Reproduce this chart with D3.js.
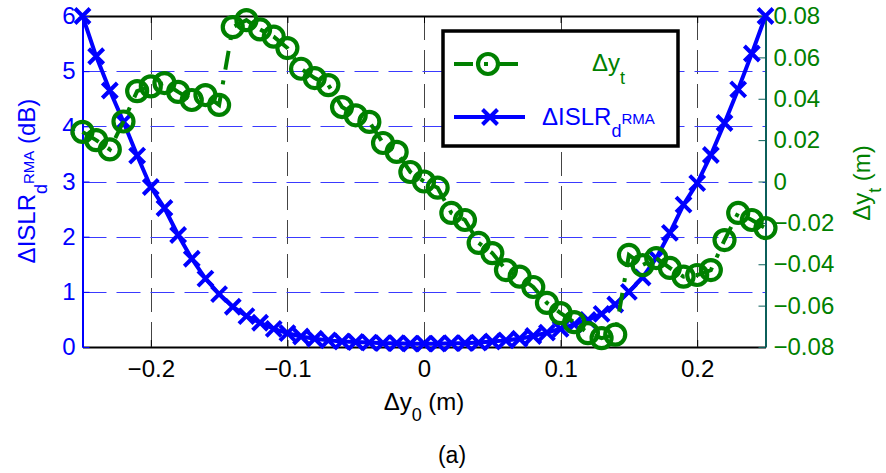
<!DOCTYPE html>
<html>
<head>
<meta charset="utf-8">
<script src="https://cdn.jsdelivr.net/npm/d3@7"></script>
<style>
  html, body { margin: 0; padding: 0; background: #fff; }
  svg { display: block; }
  text { font-family: "Liberation Sans", Arial, sans-serif; }
</style>
</head>
<body>
<svg id="chart" width="886" height="473"></svg>
<script>
// Offset of the reference position (m)
const dy0 = [
  -0.25, -0.24, -0.23, -0.22, -0.21, -0.20, -0.19, -0.18, -0.17, -0.16,
  -0.15, -0.14, -0.13, -0.12, -0.11, -0.10, -0.09, -0.08, -0.07, -0.06,
  -0.05, -0.04, -0.03, -0.02, -0.01, 0.00, 0.01, 0.02, 0.03, 0.04,
  0.05, 0.06, 0.07, 0.08, 0.09, 0.10, 0.11, 0.12, 0.13, 0.14,
  0.15, 0.16, 0.17, 0.18, 0.19, 0.20, 0.21, 0.22, 0.23, 0.24, 0.25
];
// ISLR degradation (dB), left axis
const islr = [
  6.00, 5.27, 4.65, 4.08, 3.47, 2.90, 2.52, 2.03, 1.60, 1.24,
  0.96, 0.73, 0.56, 0.44, 0.33, 0.25, 0.19, 0.15, 0.12, 0.10,
  0.09, 0.08, 0.07, 0.07, 0.06, 0.06, 0.06, 0.07, 0.07, 0.08,
  0.10, 0.12, 0.15, 0.20, 0.26, 0.33, 0.41, 0.49, 0.60, 0.77,
  1.00, 1.26, 1.61, 2.07, 2.58, 2.97, 3.48, 4.06, 4.67, 5.32, 6.00
];
// Estimated target offset (m), right axis
const dyt = [
  0.0240, 0.0200, 0.0155, 0.0290, 0.0437, 0.0460, 0.0476, 0.0433, 0.0394, 0.0418,
  0.0370, 0.0746, 0.0780, 0.0735, 0.0700, 0.0645, 0.0545, 0.0500, 0.0466, 0.0360,
  0.0320, 0.0288, 0.0186, 0.0143, 0.0046, 0.0000, -0.0030, -0.0152, -0.0186, -0.0297,
  -0.0346, -0.0428, -0.0460, -0.0510, -0.0587, -0.0636, -0.0680, -0.0733, -0.0757, -0.0740,
  -0.0355, -0.0404, -0.0370, -0.0418, -0.0460, -0.0452, -0.0428, -0.0283, -0.0152, -0.0186, -0.0225
];
const xTicks = [-0.2, -0.1, 0, 0.1, 0.2];
const yLeftTicks = [0, 1, 2, 3, 4, 5, 6];
const yRightTicks = [-0.08, -0.06, -0.04, -0.02, 0, 0.02, 0.04, 0.06, 0.08];

const BLUE = "#0000ff", GREEN = "#008000", TEAL = "#0b5f5a";
const FS = 24;
const svg = d3.select("#chart");
const L = 82.5, R = 765.5, T = 16, B = 347;

const x = d3.scaleLinear().domain([-0.25, 0.25]).range([L, R]);
const yL = d3.scaleLinear().domain([0, 6]).range([B, T]);
const yR = d3.scaleLinear().domain([-0.08, 0.08]).range([B, T]);

const fmtX = d => d === 0 ? "0" : d3.format(".1f")(d);
const fmtR = d => d === 0 ? "0" : d3.format(".2f")(d);

// grid
const grid = svg.append("g");
grid.selectAll("line.gx").data(xTicks).join("line")
  .attr("x1", d => Math.round(x(d)) + 0.5).attr("x2", d => Math.round(x(d)) + 0.5)
  .attr("y1", T).attr("y2", B)
  .attr("stroke", "#444").attr("stroke-width", 1).attr("stroke-dasharray", "24,10");
grid.selectAll("line.gy").data(yLeftTicks.filter(d => d > 0 && d < 6)).join("line")
  .attr("x1", L).attr("x2", R)
  .attr("y1", d => Math.round(yL(d)) + 0.5).attr("y2", d => Math.round(yL(d)) + 0.5)
  .attr("stroke", "#3a3aff").attr("stroke-width", 1).attr("stroke-dasharray", "24,10");

// axes
const ax = svg.append("g");
ax.append("g").attr("transform", `translate(0,${B})`)
  .call(d3.axisBottom(x).tickValues(xTicks).tickFormat(fmtX).tickSizeInner(-7).tickSizeOuter(0).tickPadding(13))
  .call(g => g.select(".domain").attr("stroke", "#000").attr("stroke-width", 2))
  .call(g => g.selectAll("line").attr("stroke", "#000"))
  .call(g => g.selectAll("text").attr("font-size", FS).attr("fill", "#000")
    .attr("font-family", "Liberation Sans, Arial, sans-serif"));
ax.append("g").attr("transform", `translate(0,${T})`)
  .call(d3.axisTop(x).tickValues(xTicks).tickFormat("").tickSizeInner(-7).tickSizeOuter(0))
  .call(g => g.select(".domain").attr("stroke", "#000").attr("stroke-width", 2))
  .call(g => g.selectAll("line").attr("stroke", "#000"));
ax.append("g").attr("transform", `translate(${L},0)`)
  .call(d3.axisLeft(yL).tickValues(yLeftTicks).tickFormat(d3.format("d")).tickSizeInner(-7).tickSizeOuter(0).tickPadding(7))
  .call(g => g.select(".domain").attr("stroke", BLUE).attr("stroke-width", 2))
  .call(g => g.selectAll("line").attr("stroke", BLUE))
  .call(g => g.selectAll("text").attr("font-size", FS).attr("fill", BLUE)
    .attr("font-family", "Liberation Sans, Arial, sans-serif"));
ax.append("g").attr("transform", `translate(${R},0)`)
  .call(d3.axisRight(yR).tickValues(yRightTicks).tickFormat(fmtR).tickSizeInner(-7).tickSizeOuter(0).tickPadding(8))
  .call(g => g.select(".domain").attr("stroke", TEAL).attr("stroke-width", 2))
  .call(g => g.selectAll("line").attr("stroke", TEAL))
  .call(g => g.selectAll("text").attr("font-size", FS).attr("fill", GREEN)
    .attr("font-family", "Liberation Sans, Arial, sans-serif"));

// ISLR series (blue, crosses)
const plot = svg.append("g");
const islrPts = dy0.map((d, i) => [d, islr[i]]);
plot.append("path").datum(islrPts)
  .attr("d", d3.line().x(d => x(d[0])).y(d => yL(d[1])))
  .attr("fill", "none").attr("stroke", BLUE).attr("stroke-width", 4).attr("stroke-linejoin", "round");
const cross = (g, s) => g.append("path")
  .attr("d", `M${-s},${-s}L${s},${s}M${-s},${s}L${s},${-s}`)
  .attr("stroke", BLUE).attr("stroke-width", 4).attr("fill", "none");
plot.selectAll("g.cx").data(islrPts).join("g")
  .attr("transform", d => `translate(${x(d[0])},${yL(d[1])})`)
  .each(function () { cross(d3.select(this), 7.5); });

// Target offset series (green, dash-dot with circles)
const dytPts = dy0.map((d, i) => [d, dyt[i]]);
plot.append("path").datum(dytPts)
  .attr("d", d3.line().x(d => x(d[0])).y(d => yR(d[1])))
  .attr("fill", "none").attr("stroke", GREEN).attr("stroke-width", 4)
  .attr("stroke-dasharray", "19,11,4,11");
plot.selectAll("circle.m").data(dytPts).join("circle")
  .attr("cx", d => x(d[0])).attr("cy", d => yR(d[1])).attr("r", 10)
  .attr("fill", "none").attr("stroke", GREEN).attr("stroke-width", 4.2);

// legend
const lg = svg.append("g");
lg.append("rect").attr("x", 443).attr("y", 31).attr("width", 235).attr("height", 115)
  .attr("fill", "#fff").attr("stroke", "#000").attr("stroke-width", 3.5);
lg.append("line").attr("x1", 454).attr("x2", 518).attr("y1", 64).attr("y2", 64)
  .attr("stroke", GREEN).attr("stroke-width", 4).attr("stroke-dasharray", "19,11,4,11");
lg.append("circle").attr("cx", 488).attr("cy", 64).attr("r", 10)
  .attr("fill", "none").attr("stroke", GREEN).attr("stroke-width", 4.2);
lg.append("line").attr("x1", 454).attr("x2", 525).attr("y1", 117).attr("y2", 117)
  .attr("stroke", BLUE).attr("stroke-width", 4);
cross(lg.append("g").attr("transform", "translate(490,117)"), 7.5);

const t1 = lg.append("text").attr("x", 592).attr("y", 71).attr("font-size", FS).attr("fill", GREEN);
t1.append("tspan").text("Δy");
t1.append("tspan").attr("dy", 13).attr("font-size", 18).text("t");
const t2 = lg.append("text").attr("x", 542).attr("y", 125).attr("font-size", FS).attr("fill", BLUE);
t2.append("tspan").text("ΔISLR");
t2.append("tspan").attr("dy", 12).attr("font-size", 18).text("d");
t2.append("tspan").attr("dy", -13).attr("font-size", 15).text("RMA");

// axis titles
const xl = svg.append("text").attr("x", 424).attr("y", 410).attr("text-anchor", "middle")
  .attr("font-size", FS).attr("fill", "#000");
xl.append("tspan").text("Δy");
xl.append("tspan").attr("dy", 11).attr("font-size", 18).text("0");
xl.append("tspan").attr("dy", -11).text(" (m)");

const yl = svg.append("text").attr("transform", "translate(35,181) rotate(-90)")
  .attr("text-anchor", "middle").attr("font-size", FS).attr("fill", BLUE);
yl.append("tspan").text("ΔISLR");
yl.append("tspan").attr("dy", 12).attr("font-size", 18).text("d");
yl.append("tspan").attr("dy", -13).attr("font-size", 15).text("RMA");
yl.append("tspan").attr("dy", 1).text(" (dB)");

const yr = svg.append("text").attr("transform", "translate(870,183) rotate(-90)")
  .attr("text-anchor", "middle").attr("font-size", FS).attr("fill", GREEN);
yr.append("tspan").text("Δy");
yr.append("tspan").attr("dy", 11).attr("font-size", 18).text("t");
yr.append("tspan").attr("dy", -11).text(" (m)");

svg.append("text").attr("x", 452).attr("y", 463).attr("text-anchor", "middle")
  .attr("font-family", "Liberation Serif, Times New Roman, serif").attr("font-size", 23)
  .attr("fill", "#000").text("(a)");
</script>
</body>
</html>
